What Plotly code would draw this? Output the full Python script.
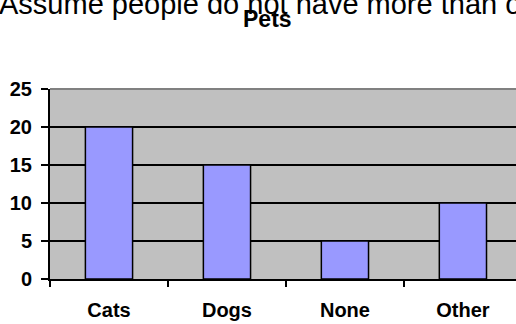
import plotly.graph_objects as go

# Pet ownership counts
categories = ["Cats", "Dogs", "None", "Other"]
counts = [20, 15, 5, 10]
y_ticks = [0, 5, 10, 15, 20, 25]

FONT = "Liberation Sans, Arial, sans-serif"

fig = go.Figure(
    go.Bar(
        x=categories,
        y=counts,
        width=0.4,
        marker=dict(color="#9999FF", line=dict(color="black", width=1.5)),
        hoverinfo="skip",
    )
)

fig.update_layout(
    width=516,
    height=324,
    margin=dict(l=50, r=0, t=89, b=45),
    paper_bgcolor="white",
    plot_bgcolor="#C0C0C0",
    showlegend=False,
    font=dict(family=FONT, color="black"),
    xaxis=dict(
        type="category",
        range=[-0.5, 3.45],
        showgrid=False,
        showline=True,
        linecolor="black",
        linewidth=2,
        ticks="outside",
        tickson="boundaries",
        ticklen=6,
        tickwidth=2,
        tickcolor="black",
        ticklabelstandoff=12,
        tickfont=dict(family=FONT, size=20, color="black", weight="bold"),
        fixedrange=True,
    ),
    yaxis=dict(
        range=[0, 25],
        tickvals=y_ticks,
        ticktext=[str(v) for v in y_ticks],
        showgrid=True,
        gridcolor="black",
        gridwidth=2,
        zeroline=False,
        showline=True,
        linecolor="black",
        linewidth=2,
        ticks="outside",
        ticklen=7,
        tickwidth=2,
        tickcolor="black",
        ticklabelstandoff=5,
        tickfont=dict(family=FONT, size=20, color="black", weight="bold"),
        fixedrange=True,
    ),
    shapes=[
        # grey frame edge along the top of the plot area
        dict(type="line", xref="paper", yref="paper", x0=0, x1=1, y0=1, y1=1,
             line=dict(color="#808080", width=2), layer="above"),
    ],
    annotations=[
        dict(text="Assume people do not have more than one pet.",
             xref="paper", yref="paper", x=-0.114, y=1.447,
             xanchor="left", yanchor="middle", showarrow=False,
             font=dict(family=FONT, size=29, color="black")),
        dict(text="<b>Pets</b>",
             xref="paper", yref="paper", x=0.4667, y=1.37,
             xanchor="center", yanchor="middle", showarrow=False,
             font=dict(family=FONT, size=23, color="black")),
    ],
)

fig.write_html("out.html")
